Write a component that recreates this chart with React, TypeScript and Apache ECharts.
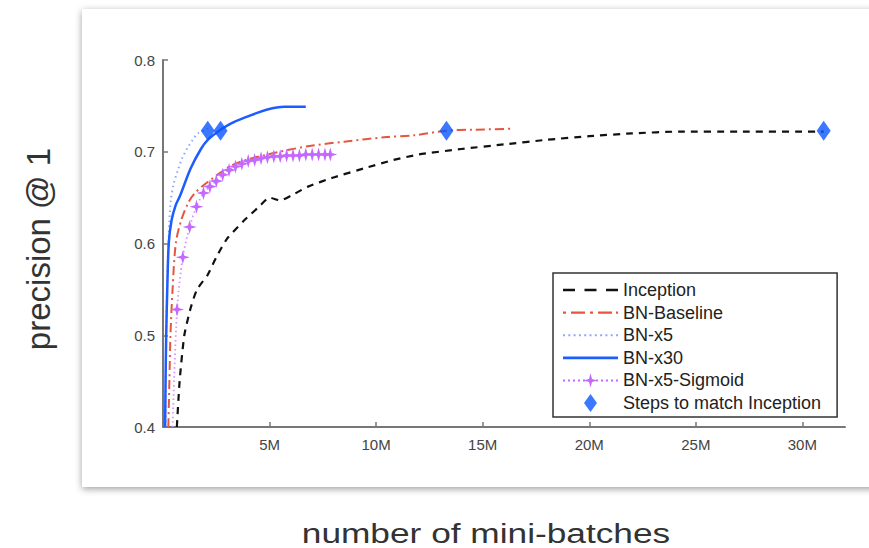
import React, { useEffect, useRef } from "react";
import * as echarts from "echarts";

// x in millions of mini-batches, y = precision @ 1
const inception: number[][] = [
  [0.65, 0.4], [0.78, 0.45], [1.0, 0.5], [1.3, 0.53], [1.6, 0.55], [2.1, 0.566],
  [2.5, 0.585], [3.0, 0.605], [3.8, 0.625], [4.5, 0.64], [5.0, 0.65], [5.5, 0.647],
  [6.0, 0.652], [6.8, 0.662], [8.0, 0.672], [9.6, 0.683], [10.8, 0.691], [12.0, 0.697],
  [14.0, 0.703], [16.0, 0.708], [18.0, 0.713], [20.0, 0.717], [22.0, 0.72], [24.3, 0.722],
  [27.0, 0.722], [31.0, 0.722],
];
const bnBaseline: number[][] = [
  [0.25, 0.4], [0.3, 0.45], [0.35, 0.5], [0.45, 0.55], [0.6, 0.6], [0.85, 0.625],
  [1.2, 0.645], [1.5, 0.655], [2.1, 0.667], [3.3, 0.686], [4.9, 0.697], [6.8, 0.706],
  [8.5, 0.711], [10.5, 0.716], [11.8, 0.718], [13.3, 0.723], [14.5, 0.724], [16.3, 0.725],
];
const bnX5: number[][] = [
  [0.12, 0.4], [0.15, 0.5], [0.2, 0.56], [0.27, 0.61], [0.37, 0.648], [0.5, 0.665],
  [0.7, 0.68], [0.9, 0.693], [1.17, 0.705], [1.4, 0.713], [1.64, 0.72], [2.2, 0.726],
];
const bnX30: number[][] = [
  [0.1, 0.4], [0.12, 0.45], [0.15, 0.5], [0.2, 0.55], [0.27, 0.6], [0.4, 0.625],
  [0.6, 0.642], [0.8, 0.652], [1.3, 0.682], [1.78, 0.703], [2.1, 0.713], [2.7, 0.724],
  [3.2, 0.731], [3.8, 0.737], [4.9, 0.746], [5.7, 0.749], [6.7, 0.749],
];
const bnX5Sigmoid: number[][] = [
  [0.45, 0.4], [0.66, 0.528], [0.93, 0.585], [1.25, 0.618], [1.57, 0.64], [1.9, 0.655],
  [2.2, 0.662], [2.5, 0.668], [2.8, 0.675], [3.1, 0.68], [3.4, 0.684], [3.7, 0.687],
  [4.0, 0.69], [4.3, 0.691], [4.6, 0.693], [4.9, 0.694], [5.2, 0.695], [5.5, 0.695],
  [5.8, 0.696], [6.1, 0.696], [6.4, 0.696], [6.7, 0.697], [7.0, 0.697], [7.3, 0.697],
  [7.6, 0.697], [7.85, 0.697],
];
const stepsToMatch: number[][] = [
  [2.1, 0.723], [2.7, 0.723], [13.3, 0.723], [31.0, 0.723],
];
const xTickValues = [5, 10, 15, 20, 25, 30];
const yTickValues = [0.4, 0.5, 0.6, 0.7, 0.8];

const FONT = "'Liberation Sans', Arial, Helvetica, sans-serif";
const STAR = "path://M0,-10L2.2,-2.2L10,0L2.2,2.2L0,10L-2.2,2.2L-10,0L-2.2,-2.2Z";

// legend icons (line samples drawn as filled paths, 55 px wide)
function dots(xs: number[], w: number, h: number) {
  return xs.map((x) => `M${x},0h${w}v${h}h-${w}z`).join("");
}
const ICON_INCEPTION = "path://" + dots([0, 21.5, 43], 12, 2.6);
const ICON_BASELINE =
  "path://M0,0h3v2.4h-3zM8,0h14v2.4h-14zM27,0h3v2.4h-3zM35,0h14v2.4h-14zM53,0h2v2.4h-2z";
const ICON_X5 = "path://" + dots([0, 5.3, 10.6, 15.9, 21.2, 26.5, 31.8, 37.1, 42.4, 47.7, 53], 2, 2);
const ICON_X30 = "path://M0,0h55v2.8h-55z";
const ICON_SIGMOID =
  "path://" +
  dots([0, 5, 10, 15, 20, 33, 38, 43, 48, 53], 2, 2) +
  "M27.5,-6.2L29,-0.5L34.7,1L29,2.5L27.5,8.2L26,2.5L20.3,1L26,-0.5Z";
const ICON_STEPS = "path://M0,-9L6.5,0L0,9L-6.5,0Z";

export default function App() {
  const ref = useRef<HTMLDivElement>(null);
  useEffect(() => {
    if (!ref.current) return;
    const chart = echarts.init(ref.current, undefined, { renderer: "svg" });
    const li = (name: string, icon: string, color: string) => ({
      name,
      icon,
      itemStyle: { color, borderWidth: 0 },
    });
    chart.setOption({
      animation: false,
      backgroundColor: "#ffffff",
      graphic: [
        {
          type: "rect",
          z: -10,
          silent: true,
          shape: { x: 82, y: 9, width: 820, height: 478 },
          style: {
            fill: "#ffffff",
            shadowBlur: 7,
            shadowColor: "rgba(0,0,0,0.38)",
            shadowOffsetY: 2,
          },
        },
        {
          type: "text",
          x: 486,
          y: 533,
          scaleX: 1.26,
          style: {
            text: "number of mini-batches",
            fontSize: 28,
            fontFamily: FONT,
            fill: "#333",
            align: "center",
            verticalAlign: "middle",
          },
        },
        {
          type: "text",
          x: 38,
          y: 249,
          rotation: Math.PI / 2,
          scaleX: 1.1,
          scaleY: 1.1,
          style: {
            text: "precision @ 1",
            fontSize: 30,
            fontFamily: FONT,
            fill: "#333",
            align: "center",
            verticalAlign: "middle",
          },
        },
      ],
      grid: { left: 163, top: 60, right: 24, bottom: 121, containLabel: false },
      legend: {
        orient: "vertical",
        left: 553,
        top: 273,
        padding: [8, 16, 5, 10],
        itemWidth: 55,
        itemHeight: 18,
        itemGap: 4.6,
        borderColor: "#333",
        borderWidth: 1.5,
        backgroundColor: "#fff",
        itemStyle: { borderWidth: 0 },
        textStyle: { fontSize: 18, color: "#222", fontFamily: FONT },
        data: [
          li("Inception", ICON_INCEPTION, "#111"),
          li("BN-Baseline", ICON_BASELINE, "#e4573d"),
          li("BN-x5", ICON_X5, "#8ea6ff"),
          li("BN-x30", ICON_X30, "#1d5cff"),
          li("BN-x5-Sigmoid", ICON_SIGMOID, "#c468ff"),
          li("Steps to match Inception", ICON_STEPS, "#0a55ff"),
        ],
      },
      xAxis: {
        type: "value",
        min: 0,
        max: 32,
        interval: 5,
        axisLine: { show: true, lineStyle: { color: "#777", width: 2 } },
        axisTick: { show: true, inside: true, length: 5, customValues: xTickValues, lineStyle: { color: "#777", width: 1.5 } },
        axisLabel: {
          customValues: xTickValues,
          formatter: (v: number) => (xTickValues.indexOf(v) >= 0 ? v + "M" : ""),
          fontSize: 15,
          color: "#444",
          fontFamily: FONT,
          margin: 10,
        },
        splitLine: { show: false },
      },
      yAxis: {
        type: "value",
        min: 0.4,
        max: 0.8,
        interval: 0.1,
        axisLine: { show: true, lineStyle: { color: "#777", width: 2 } },
        axisTick: { show: true, inside: true, length: 5, customValues: yTickValues, lineStyle: { color: "#777", width: 1.5 } },
        axisLabel: {
          customValues: yTickValues,
          formatter: (v: number) => v.toFixed(1),
          fontSize: 15,
          color: "#444",
          fontFamily: FONT,
          margin: 8,
        },
        splitLine: { show: false },
      },
      series: [
        {
          name: "Inception",
          type: "line",
          data: inception,
          smooth: 0.2,
          symbol: "none",
          lineStyle: { color: "#111", width: 2.2, type: [7, 6] },
          itemStyle: { color: "#111" },
        },
        {
          name: "BN-Baseline",
          type: "line",
          data: bnBaseline,
          smooth: 0.3,
          symbol: "none",
          lineStyle: { color: "#e4573d", width: 2, type: [9, 4, 2, 4] },
          itemStyle: { color: "#e4573d" },
        },
        {
          name: "BN-x5",
          type: "line",
          data: bnX5,
          smooth: 0.3,
          symbol: "none",
          lineStyle: { color: "#8ea6ff", width: 2, type: [1.5, 3.5] },
          itemStyle: { color: "#8ea6ff" },
        },
        {
          name: "BN-x30",
          type: "line",
          data: bnX30,
          smooth: 0.3,
          symbol: "none",
          lineStyle: { color: "#1d5cff", width: 2.5, type: "solid" },
          itemStyle: { color: "#1d5cff" },
        },
        {
          name: "BN-x5-Sigmoid",
          type: "line",
          data: bnX5Sigmoid.map((p, i) => (i === 0 ? { value: p, symbol: "none" } : p)),
          smooth: 0.3,
          symbol: STAR,
          symbolSize: 14,
          showAllSymbol: true,
          lineStyle: { color: "#d690ff", width: 1.8, type: [1.5, 3] },
          itemStyle: { color: "#c468ff" },
        },
        {
          name: "Steps to match Inception",
          type: "scatter",
          data: stepsToMatch,
          symbol: "diamond",
          symbolSize: [14, 20],
          itemStyle: { color: "#0a55ff" },
          z: 5,
        },
      ],
    });
    return () => chart.dispose();
  }, []);
  return (
    <div
      ref={ref}
      style={{ position: "fixed", left: 0, top: 0, width: 869, height: 548 }}
    />
  );
}
